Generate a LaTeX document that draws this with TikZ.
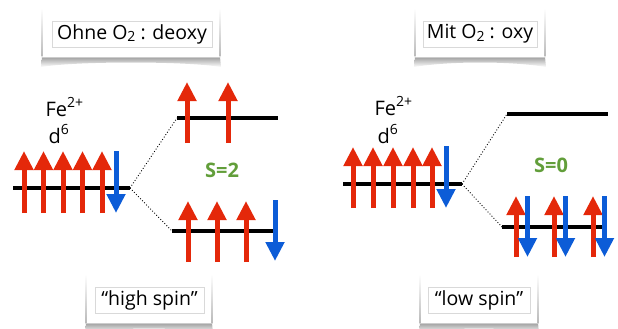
\documentclass[tikz,border=0pt]{standalone}
\usepackage{fontspec}
\setmainfont{Open Sans}
\usetikzlibrary{arrows.meta}

\definecolor{spinred}{RGB}{228,40,10}
\definecolor{spinblue}{RGB}{12,92,215}
\definecolor{spingreen}{RGB}{98,158,58}

\newcommand\lowidx[1]{\raisebox{-0.25ex}{\fontsize{14}{14}\selectfont #1}}
\newcommand\highidx[1]{\raisebox{0.75ex}{\fontsize{14}{14}\selectfont #1}}

\tikzset{
  orbital/.style={line width=4.5pt, black},
  spinup/.style={spinred, line width=5pt, -{Triangle[width=18pt,length=19pt]}},
  spindown/.style={spinblue, line width=5pt, -{Triangle[width=18pt,length=19pt]}},
  split/.style={dotted, line width=0.9pt},
  tag/.style={draw=gray!30, line width=0.6pt, fill=white, inner sep=0pt,
              font=\fontsize{19.5}{20}\selectfont},
  ion/.style={anchor=base west, font=\fontsize{20}{20}\selectfont},
  spinsum/.style={spingreen, font=\fontsize{20}{20}\selectfont\bfseries}
}

% paper card with fading sides and a curled shadow underneath
\newcommand\papercard[4]{% x1, x2, ytop, ybottom
  \shade[top color=gray!75, bottom color=white]
    (#1,#4) -- (#2,#4) -- (#2+1,#4+10)
    .. controls (#2-35,#4+4) and (#1+35,#4+4) .. (#1-1,#4+10) -- cycle;
  \fill[white] (#1,#3) rectangle (#2,#4);
  \shade[top color=white, bottom color=gray!55] (#1-0.4,#3) rectangle (#1+0.4,#4);
  \shade[top color=white, bottom color=gray!55] (#2-0.4,#3) rectangle (#2+0.4,#4);
  \draw[gray!40, line width=0.6pt] (#1,#4) -- (#2,#4);
}

\begin{document}
\begin{tikzpicture}[x=1pt, y=-1pt]
\useasboundingbox (0,0) rectangle (618,329);

% ---------- captions ----------
\papercard{42}{220}{8}{57}
\node[tag, minimum width=160pt, minimum height=26pt] (deoxy) at (132,34)
  {Ohne O\lowidx{2} : deoxy};
\papercard{415}{545}{8}{57}
\node[tag, minimum width=114pt, minimum height=26pt] (oxy) at (480,34)
  {Mit O\lowidx{2} : oxy};
\papercard{86}{212}{274}{323}
\node[tag, minimum width=109pt, minimum height=26pt] (hs) at (149.5,300)
  {“high spin”};
\papercard{420}{538}{274}{323}
\node[tag, minimum width=102pt, minimum height=26pt] (ls) at (479,300)
  {“low spin”};

% ---------- deoxy: high spin ----------
\node[ion] (fe1) at (42,116) {Fe\highidx{2+}};
\node[ion] (d1) at (45,143) {d\highidx{6}};

\coordinate (a1) at (13,188);  \coordinate (a2) at (130,188);
\coordinate (b1) at (177,118); \coordinate (b2) at (278,118);
\coordinate (c1) at (172,231); \coordinate (c2) at (273,231);
\draw[orbital] (a1) -- (a2);
\draw[orbital] (b1) -- (b2);
\draw[orbital] (c1) -- (c2);
\draw[split] (a2) -- (b1);
\draw[split] (a2) -- (c1);

\foreach \x in {24,43.5,63,82.5,102} \draw[spinup] (\x,213) -- (\x,151);
\draw[spindown] (116,151) -- (116,213);
\foreach \x in {187,228} \draw[spinup] (\x,143) -- (\x,82);
\foreach \x in {188,217,246} \draw[spinup] (\x,262) -- (\x,201);
\draw[spindown] (275,200) -- (275,261);

\node[spinsum] (s2) at (222,170) {S=2};

% ---------- oxy: low spin ----------
\node[ion] (fe2) at (371,115) {Fe\highidx{2+}};
\node[ion] (d2) at (374,143) {d\highidx{6}};

\coordinate (e1) at (343,184); \coordinate (e2) at (462,184);
\coordinate (f1) at (507,114); \coordinate (f2) at (608,114);
\coordinate (g1) at (502,227); \coordinate (g2) at (603,227);
\draw[orbital] (e1) -- (e2);
\draw[orbital] (f1) -- (f2);
\draw[orbital] (g1) -- (g2);
\draw[split] (e2) -- (f1);
\draw[split] (e2) -- (g1);

\foreach \x in {353,373,393,413,432} \draw[spinup] (\x,208) -- (\x,147);
\draw[spindown] (446,146) -- (446,208);
\foreach \x in {516,554,593} {
  \draw[spinup] (\x,257) -- (\x,196);
  \draw[spindown] (\x+11.5,196) -- (\x+11.5,257);
}

\node[spinsum] (s0) at (551,165) {S=0};
\end{tikzpicture}
\end{document}
